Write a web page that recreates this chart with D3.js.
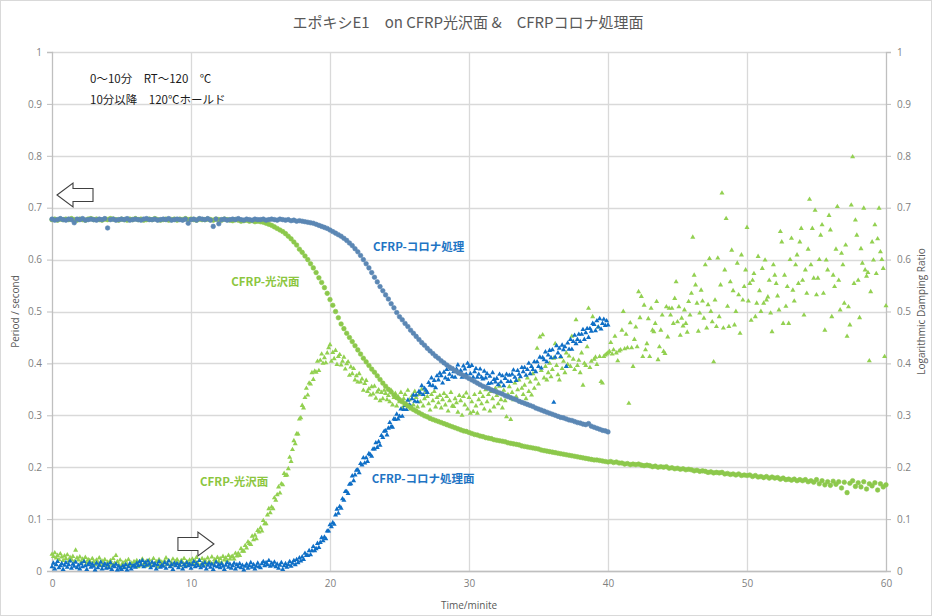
<!DOCTYPE html>
<html><head><meta charset="utf-8">
<script src="https://cdn.jsdelivr.net/npm/d3@7/dist/d3.min.js"></script>
<style>body{margin:0;background:#fff}</style></head>
<body><svg id="chart" width="932" height="616"></svg>
<script>
// ---------- data ----------
const titleText = "エポキシE1　on CFRP光沢面 &　CFRPコロナ処理面";
const noteLines = ["0～10分　RT～120　℃", "10分以降　120℃ホールド"];
const xTicks = [0, 10, 20, 30, 40, 50, 60];
const yTicks = [0, 0.1, 0.2, 0.3, 0.4, 0.5, 0.6, 0.7, 0.8, 0.9, 1];
const periodStep = 0.2;   // minutes between period readings
const dampingStep = 0.1;  // minutes between damping readings

// Period (s), CFRP corona treated, t = 0..40
const bluePeriod = [
0.678,0.676,0.677,0.679,0.677, 0.676,0.678,0.677,0.671,0.678, 0.677,0.679,0.676,0.677,0.678, 0.677,0.676,0.678,0.677,0.679,
0.661,0.677,0.678,0.676,0.677, 0.678,0.677,0.679,0.676,0.677, 0.678,0.677,0.676,0.678,0.679, 0.677,0.677,0.678,0.676,0.677,
0.678,0.677,0.679,0.676,0.677, 0.678,0.677,0.676,0.678,0.670, 0.677,0.678,0.676,0.679,0.678, 0.677,0.679,0.676,0.664,0.678,
0.669,0.677,0.678,0.676,0.677, 0.678,0.677,0.679,0.677,0.676, 0.678,0.677,0.676,0.678,0.677, 0.677,0.678,0.676,0.677,0.678,
0.677,0.676,0.678,0.677,0.676, 0.677,0.675,0.676,0.674,0.675, 0.674,0.673,0.672,0.671,0.670, 0.668,0.666,0.664,0.662,0.660,
0.657,0.654,0.651,0.648,0.645, 0.641,0.637,0.632,0.627,0.621, 0.615,0.608,0.600,0.592,0.584, 0.575,0.566,0.557,0.548,0.540,
0.532,0.524,0.515,0.507,0.498, 0.490,0.484,0.477,0.471,0.464, 0.458,0.452,0.446,0.440,0.435, 0.429,0.424,0.419,0.414,0.410,
0.405,0.401,0.397,0.393,0.390, 0.386,0.383,0.380,0.377,0.374, 0.371,0.368,0.365,0.362,0.359, 0.356,0.354,0.352,0.349,0.347,
0.345,0.343,0.341,0.338,0.336, 0.334,0.332,0.330,0.327,0.325, 0.323,0.321,0.319,0.317,0.314, 0.312,0.310,0.308,0.306,0.304,
0.302,0.300,0.298,0.296,0.295, 0.293,0.291,0.290,0.288,0.286, 0.285,0.283,0.282,0.284,0.279, 0.277,0.275,0.273,0.271,0.270,
0.268];

// Period (s), CFRP glossy, t = 0..60
const greenPeriod = [
0.677,0.678,0.676,0.678,0.677, 0.678,0.677,0.679,0.677,0.676, 0.678,0.677,0.676,0.678,0.679, 0.677,0.678,0.677,0.676,0.678,
0.677,0.679,0.678,0.677,0.676, 0.678,0.677,0.676,0.678,0.677, 0.679,0.677,0.678,0.676,0.677, 0.678,0.677,0.679,0.677,0.676,
0.677,0.678,0.676,0.677,0.678, 0.676,0.678,0.677,0.679,0.677, 0.678,0.677,0.676,0.678,0.677, 0.677,0.678,0.677,0.676,0.678,
0.677,0.676,0.678,0.677,0.676, 0.675,0.677,0.676,0.674,0.675, 0.676,0.674,0.675,0.673,0.674, 0.673,0.672,0.670,0.668,0.666,
0.663,0.660,0.657,0.654,0.650, 0.645,0.640,0.634,0.628,0.620, 0.614,0.607,0.600,0.592,0.584, 0.575,0.565,0.556,0.546,0.535,
0.523,0.512,0.500,0.488,0.476, 0.467,0.458,0.450,0.442,0.434, 0.426,0.418,0.410,0.403,0.396, 0.389,0.383,0.376,0.369,0.362,
0.356,0.350,0.345,0.339,0.334, 0.330,0.326,0.322,0.318,0.315, 0.311,0.308,0.305,0.302,0.299, 0.297,0.294,0.292,0.290,0.288,
0.286,0.284,0.282,0.280,0.278, 0.276,0.274,0.272,0.270,0.269, 0.267,0.265,0.263,0.262,0.260, 0.259,0.257,0.256,0.255,0.253,
0.252,0.251,0.250,0.249,0.247, 0.246,0.245,0.244,0.243,0.241, 0.240,0.239,0.238,0.237,0.236, 0.235,0.233,0.232,0.231,0.230,
0.229,0.228,0.227,0.226,0.225, 0.224,0.223,0.222,0.221,0.220, 0.219,0.218,0.217,0.216,0.215, 0.214,0.214,0.213,0.212,0.211,
0.210,0.211,0.209,0.210,0.208, 0.208,0.206,0.207,0.205,0.206, 0.205,0.206,0.204,0.203,0.204, 0.203,0.201,0.202,0.200,0.201,
0.200,0.201,0.198,0.199,0.197, 0.198,0.196,0.197,0.195,0.196, 0.195,0.193,0.194,0.192,0.193, 0.192,0.190,0.191,0.189,0.190,
0.189,0.190,0.187,0.188,0.186, 0.187,0.185,0.187,0.184,0.185, 0.184,0.185,0.182,0.184,0.181, 0.182,0.180,0.182,0.179,0.181,
0.179,0.180,0.177,0.179,0.176, 0.177,0.175,0.177,0.174,0.176, 0.174,0.176,0.172,0.174,0.171, 0.176,0.168,0.174,0.166,0.172,
0.165,0.173,0.167,0.172,0.160, 0.171,0.151,0.169,0.174,0.163, 0.170,0.162,0.172,0.158,0.168, 0.164,0.170,0.156,0.168,0.162,
0.166];

// Logarithmic damping ratio, CFRP corona treated, t = 0..40
const blueDamping = [
0.008,0.015,0.004,0.012,0.018,0.006,0.010,0.014,0.003,0.011,
0.016,0.007,0.012,0.019,0.005,0.013,0.009,0.017,0.006,0.011,
0.004,0.014,0.008,0.018,0.010,0.003,0.012,0.016,0.007,0.013,
0.009,0.002,0.015,0.006,0.011,0.017,0.004,0.010,0.014,0.005,
0.012,0.006,0.016,0.003,0.010,0.008,0.013,0.002,0.009,0.005,
0.003,0.010,0.006,0.012,0.002,0.008,0.014,0.004,0.009,0.011,
0.007,0.015,0.010,0.018,0.012,0.020,0.008,0.016,0.011,0.019,
0.013,0.006,0.017,0.010,0.014,0.004,0.012,0.018,0.007,0.011,
0.009,0.016,0.005,0.013,0.019,0.008,0.012,0.003,0.015,0.010,
0.014,0.006,0.011,0.017,0.004,0.012,0.008,0.016,0.010,0.013,
0.005,0.012,0.018,0.008,0.014,0.010,0.020,0.006,0.013,0.009,
0.016,0.004,0.011,0.015,0.007,0.013,0.003,0.010,0.017,0.008,
0.012,0.006,0.014,0.009,0.003,0.011,0.016,0.007,0.013,0.005,
0.010,0.015,0.004,0.012,0.008,0.014,0.006,0.011,0.002,0.009,
0.013,0.005,0.010,0.016,0.007,0.012,0.004,0.009,0.015,0.008,
0.006,0.014,0.018,0.010,0.016,0.012,0.020,0.009,0.015,0.011,
0.017,0.008,0.013,0.005,0.011,0.016,0.003,0.010,0.014,0.007,
0.012,0.018,0.009,0.015,0.020,0.012,0.022,0.016,0.025,0.019,
0.027,0.022,0.034,0.030,0.030,0.039,0.031,0.039,0.047,0.039,
0.043,0.053,0.045,0.055,0.064,0.058,0.065,0.062,0.077,0.077,
0.089,0.085,0.093,0.090,0.108,0.119,0.111,0.124,0.121,0.139,
0.136,0.153,0.153,0.149,0.167,0.168,0.183,0.174,0.185,0.194,
0.195,0.189,0.207,0.204,0.218,0.208,0.218,0.211,0.226,0.224,
0.221,0.235,0.235,0.247,0.238,0.249,0.242,0.261,0.257,0.269,
0.270,0.262,0.275,0.286,0.278,0.277,0.293,0.292,0.302,0.293,
0.298,0.312,0.298,0.311,0.319,0.311,0.329,0.320,0.318,0.332,
0.339,0.327,0.339,0.326,0.346,0.343,0.357,0.340,0.352,0.348,
0.344,0.363,0.358,0.372,0.357,0.367,0.353,0.376,0.368,0.381,
0.376,0.362,0.383,0.372,0.388,0.369,0.379,0.389,0.374,0.384,
0.373,0.389,0.397,0.380,0.386,0.373,0.395,0.389,0.379,0.400,
0.394,0.380,0.396,0.373,0.384,0.390,0.373,0.379,0.389,0.373,
0.370,0.385,0.372,0.380,0.361,0.375,0.362,0.382,0.369,0.364,
0.371,0.359,0.379,0.364,0.376,0.357,0.371,0.379,0.365,0.377,
0.365,0.379,0.387,0.373,0.367,0.386,0.379,0.374,0.392,0.384,
0.392,0.377,0.388,0.400,0.380,0.394,0.388,0.403,0.384,0.403,
0.394,0.412,0.391,0.411,0.407,0.422,0.403,0.416,0.425,0.411,
0.426,0.325,0.412,0.434,0.420,0.429,0.413,0.435,0.426,0.432,
0.394,0.439,0.427,0.446,0.427,0.442,0.454,0.438,0.446,0.456,
0.442,0.456,0.465,0.446,0.459,0.467,0.450,0.467,0.462,0.477,
0.475,0.463,0.482,0.470,0.486,0.466,0.477,0.485,0.473,0.482,
0.474];

// Logarithmic damping ratio, CFRP glossy, t = 0..60
const greenDamping = [
0.032,0.028,0.035,0.025,0.030,0.022,0.033,0.027,0.020,0.029,
0.024,0.031,0.019,0.026,0.022,0.028,0.018,0.040,0.025,0.021,
0.027,0.017,0.023,0.019,0.026,0.015,0.022,0.020,0.013,0.024,
0.018,0.012,0.021,0.016,0.025,0.010,0.019,0.014,0.022,0.011,
0.017,0.009,0.020,0.013,0.024,0.015,0.030,0.018,0.012,0.021,
0.010,0.016,0.007,0.019,0.012,0.022,0.009,0.015,0.011,0.018,
0.013,0.020,0.008,0.017,0.011,0.023,0.014,0.009,0.019,0.012,
0.021,0.010,0.016,0.024,0.012,0.018,0.008,0.022,0.014,0.017,
0.011,0.019,0.025,0.013,0.020,0.009,0.016,0.023,0.012,0.018,
0.022,0.014,0.010,0.020,0.016,0.024,0.011,0.018,0.013,0.021,
0.015,0.023,0.012,0.019,0.026,0.014,0.020,0.011,0.024,0.017,
0.021,0.013,0.025,0.018,0.016,0.027,0.014,0.022,0.019,0.026,
0.018,0.024,0.016,0.028,0.021,0.025,0.019,0.030,0.023,0.027,
0.028,0.023,0.034,0.029,0.034,0.030,0.043,0.038,0.038,0.049,
0.044,0.056,0.053,0.051,0.067,0.060,0.069,0.062,0.078,0.075,
0.083,0.077,0.097,0.091,0.091,0.108,0.120,0.112,0.123,0.120,
0.141,0.136,0.147,0.162,0.150,0.168,0.166,0.188,0.184,0.185,
0.197,0.219,0.211,0.234,0.251,0.245,0.264,0.264,0.293,0.295,
0.319,0.314,0.334,0.352,0.339,0.362,0.360,0.382,0.369,0.385,
0.383,0.404,0.386,0.406,0.418,0.400,0.411,0.401,0.420,0.430,
0.436,0.404,0.421,0.409,0.425,0.398,0.413,0.417,0.397,0.404,
0.412,0.389,0.399,0.403,0.377,0.393,0.380,0.390,0.368,0.376,
0.364,0.380,0.364,0.370,0.348,0.361,0.367,0.346,0.351,0.339,
0.355,0.341,0.356,0.333,0.345,0.349,0.328,0.344,0.332,0.348,
0.342,0.330,0.338,0.326,0.348,0.320,0.334,0.342,0.318,0.336,
0.326,0.344,0.314,0.332,0.340,0.322,0.348,0.330,0.312,0.338,
0.320,0.346,0.334,0.316,0.340,0.326,0.350,0.318,0.332,0.344,
0.336,0.322,0.310,0.340,0.328,0.346,0.316,0.334,0.324,0.338,
0.314,0.330,0.342,0.320,0.336,0.308,0.328,0.344,0.318,0.317,
0.332,0.324,0.306,0.338,0.328,0.300,0.336,0.320,0.343,0.312,
0.334,0.304,0.326,0.307,0.340,0.318,0.304,0.330,0.344,0.322,
0.336,0.312,0.349,0.326,0.340,0.308,0.346,0.332,0.316,0.352,
0.338,0.322,0.356,0.330,0.314,0.348,0.328,0.297,0.340,0.355,
0.292,0.344,0.330,0.362,0.336,0.349,0.368,0.326,0.352,0.340,
0.358,0.332,0.372,0.346,0.364,0.339,0.380,0.352,0.370,0.429,
0.360,0.451,0.386,0.455,0.372,0.394,0.368,0.382,0.400,0.374,
0.388,0.410,0.438,0.396,0.378,0.368,0.412,0.390,0.404,0.382,
0.420,0.398,0.414,0.394,0.452,0.408,0.388,0.484,0.396,0.406,
0.382,0.420,0.358,0.400,0.396,0.432,0.506,0.392,0.404,0.490,
0.408,0.412,0.398,0.470,0.413,0.365,0.362,0.413,0.416,0.418,
0.420,0.423,0.440,0.418,0.426,0.452,0.420,0.405,0.424,0.426,
0.464,0.500,0.428,0.456,0.430,0.323,0.478,0.430,0.394,0.446,
0.470,0.432,0.538,0.488,0.529,0.413,0.512,0.426,0.438,0.486,
0.413,0.506,0.464,0.461,0.477,0.519,0.407,0.432,0.464,0.493,
0.423,0.419,0.509,0.451,0.506,0.493,0.506,0.477,0.525,0.557,
0.480,0.509,0.454,0.487,0.472,0.503,0.477,0.460,0.519,0.493,
0.535,0.643,0.570,0.551,0.516,0.462,0.497,0.541,0.520,0.487,
0.590,0.468,0.513,0.602,0.500,0.480,0.403,0.522,0.471,0.603,
0.490,0.551,0.728,0.468,0.580,0.679,0.510,0.471,0.557,0.618,
0.540,0.474,0.500,0.593,0.532,0.458,0.609,0.522,0.548,0.580,
0.662,0.520,0.554,0.483,0.560,0.573,0.490,0.516,0.606,0.540,
0.500,0.583,0.516,0.599,0.522,0.528,0.560,0.497,0.461,0.590,
0.570,0.554,0.530,0.503,0.654,0.634,0.477,0.570,0.510,0.548,
0.477,0.600,0.641,0.541,0.520,0.590,0.609,0.554,0.634,0.660,
0.560,0.493,0.580,0.535,0.620,0.716,0.590,0.660,0.564,0.695,
0.532,0.564,0.600,0.647,0.667,0.535,0.464,0.599,0.580,0.685,
0.657,0.490,0.570,0.548,0.620,0.702,0.560,0.503,0.612,0.590,
0.516,0.628,0.452,0.509,0.474,0.705,0.798,0.554,0.676,0.647,
0.560,0.488,0.621,0.593,0.699,0.580,0.568,0.575,0.405,0.538,
0.634,0.599,0.667,0.573,0.640,0.699,0.615,0.600,0.583,0.413,
0.511];

const seriesLabels = [
  {text: "CFRP-コロナ処理",   t: 23.1, v: 0.617, color: "#1f75c4"},
  {text: "CFRP-光沢面",       t: 12.9, v: 0.549, color: "#8cc63f"},
  {text: "CFRP-光沢面",       t: 10.65, v: 0.163, color: "#8cc63f"},
  {text: "CFRP-コロナ処理面", t: 23.0, v: 0.170, color: "#1f75c4"}
];

// ---------- layout ----------
const W = 932, H = 616;
const M = {left: 52, right: 886, top: 52, bottom: 571};
const svg = d3.select("#chart");
const x = d3.scaleLinear().domain([0, 60]).range([M.left, M.right]);
const y = d3.scaleLinear().domain([0, 1]).range([M.bottom, M.top]);

svg.append("rect").attr("x", 0.5).attr("y", 0.5).attr("width", W - 1).attr("height", H - 1)
  .attr("fill", "#fff").attr("stroke", "#d9d9d9");

// gridlines
const grid = svg.append("g");
grid.selectAll("line.h").data(yTicks).join("line")
  .attr("x1", M.left).attr("x2", M.right)
  .attr("y1", d => Math.round(y(d)) + 0.5).attr("y2", d => Math.round(y(d)) + 0.5)
  .attr("stroke", "#d9d9d9").attr("stroke-width", 1.3);
grid.selectAll("line.v").data(xTicks.slice(1, -1)).join("line")
  .attr("y1", M.top).attr("y2", M.bottom)
  .attr("x1", d => Math.round(x(d)) + 0.5).attr("x2", d => Math.round(x(d)) + 0.5)
  .attr("stroke", "#d9d9d9").attr("stroke-width", 1.3);

// axes
const tickFont = "'Open Sans', 'Noto Sans', sans-serif";
function styleAxis(g) {
  g.select(".domain").attr("stroke", "#bfbfbf").attr("stroke-width", 1.3);
  g.selectAll(".tick line").attr("stroke", "#bfbfbf");
  g.selectAll(".tick text").attr("fill", "#7f7f7f").style("font-family", tickFont).style("font-size", "10px");
}
svg.append("g").attr("transform", `translate(${M.left},0)`)
  .call(d3.axisLeft(y).tickValues(yTicks).tickFormat(d => String(d)).tickSizeOuter(0).tickSize(5).tickPadding(5))
  .call(styleAxis);
svg.append("g").attr("transform", `translate(${M.right},0)`)
  .call(d3.axisRight(y).tickValues(yTicks).tickFormat(d => String(d)).tickSizeOuter(0).tickSize(5).tickPadding(6))
  .call(styleAxis);
svg.append("g").attr("transform", `translate(0,${M.bottom})`)
  .call(d3.axisBottom(x).tickValues(xTicks).tickFormat(d => String(d)).tickSizeOuter(0).tickSize(0).tickPadding(9))
  .call(styleAxis);

// axis titles
const axisTitleStyle = s => s.attr("fill", "#595959").style("font-family", tickFont).style("font-size", "10px");
svg.append("text").attr("transform", `translate(19,${(M.top + M.bottom) / 2}) rotate(-90)`)
  .attr("text-anchor", "middle").text("Period / second").call(axisTitleStyle);
svg.append("text").attr("transform", `translate(925,${(M.top + M.bottom) / 2}) rotate(-90)`)
  .attr("text-anchor", "middle").text("Logarithmic Damping Ratio").call(axisTitleStyle);
svg.append("text").attr("x", (M.left + M.right) / 2).attr("y", 609)
  .attr("text-anchor", "middle").text("Time/minite").call(axisTitleStyle);

// title
svg.append("text").attr("x", 468).attr("y", 28).attr("text-anchor", "middle")
  .attr("fill", "#595959").style("font-family", "'Noto Sans CJK JP', sans-serif").style("font-size", "15px")
  .text(titleText);

// ---------- marks ----------
const toPts = (arr, step) => arr.map((v, i) => ({t: i * step, v}));
const plot = svg.append("g");
const tri = d3.symbol().type(d3.symbolTriangle).size(11);

function triangles(data, color) {
  plot.append("g").selectAll("path").data(data).join("path")
    .attr("d", tri).attr("fill", color)
    .attr("transform", d => `translate(${x(d.t)},${y(d.v)})`);
}
function circles(data, color) {
  plot.append("g").selectAll("circle").data(data).join("circle")
    .attr("cx", d => x(d.t)).attr("cy", d => y(d.v)).attr("r", 2.3)
    .attr("fill", color).attr("stroke", color).attr("stroke-width", 0.6);
}
triangles(toPts(greenDamping, dampingStep), "#92d050");
triangles(toPts(blueDamping, dampingStep), "#0f6fc6");
circles(toPts(greenPeriod, periodStep), "#8cc84b");
circles(toPts(bluePeriod, periodStep), "#5b87b4");

// series labels
svg.append("g").selectAll("text").data(seriesLabels).join("text")
  .attr("x", d => x(d.t)).attr("y", d => y(d.v)).attr("fill", d => d.color)
  .style("font-family", "'Noto Sans CJK JP', sans-serif").style("font-size", "11.5px").style("font-weight", "bold")
  .text(d => d.text);

// notes
svg.append("g").selectAll("text").data(noteLines).join("text")
  .attr("x", 90).attr("y", (d, i) => 83 + i * 21).attr("fill", "#1a1a1a")
  .style("font-family", "'Noto Sans CJK JP', sans-serif").style("font-size", "11.5px")
  .text(d => d);

// hollow arrows (annotation), anchored in data space
function arrow(tipT, tipV, dir) {
  const tx = x(tipT), ty = y(tipV), s = dir;
  const headL = 16, len = 36, hh = 12, sh = 6.5;
  const p = d3.path();
  p.moveTo(tx, ty);
  p.lineTo(tx + s * headL, ty - hh);
  p.lineTo(tx + s * headL, ty - sh);
  p.lineTo(tx + s * len, ty - sh);
  p.lineTo(tx + s * len, ty + sh);
  p.lineTo(tx + s * headL, ty + sh);
  p.lineTo(tx + s * headL, ty + hh);
  p.closePath();
  svg.append("path").attr("d", p.toString()).attr("fill", "#fff")
    .attr("stroke", "#404040").attr("stroke-width", 1.1);
}
arrow(0.36, 0.7245, 1);
arrow(11.65, 0.052, -1);
</script>
</body></html>
